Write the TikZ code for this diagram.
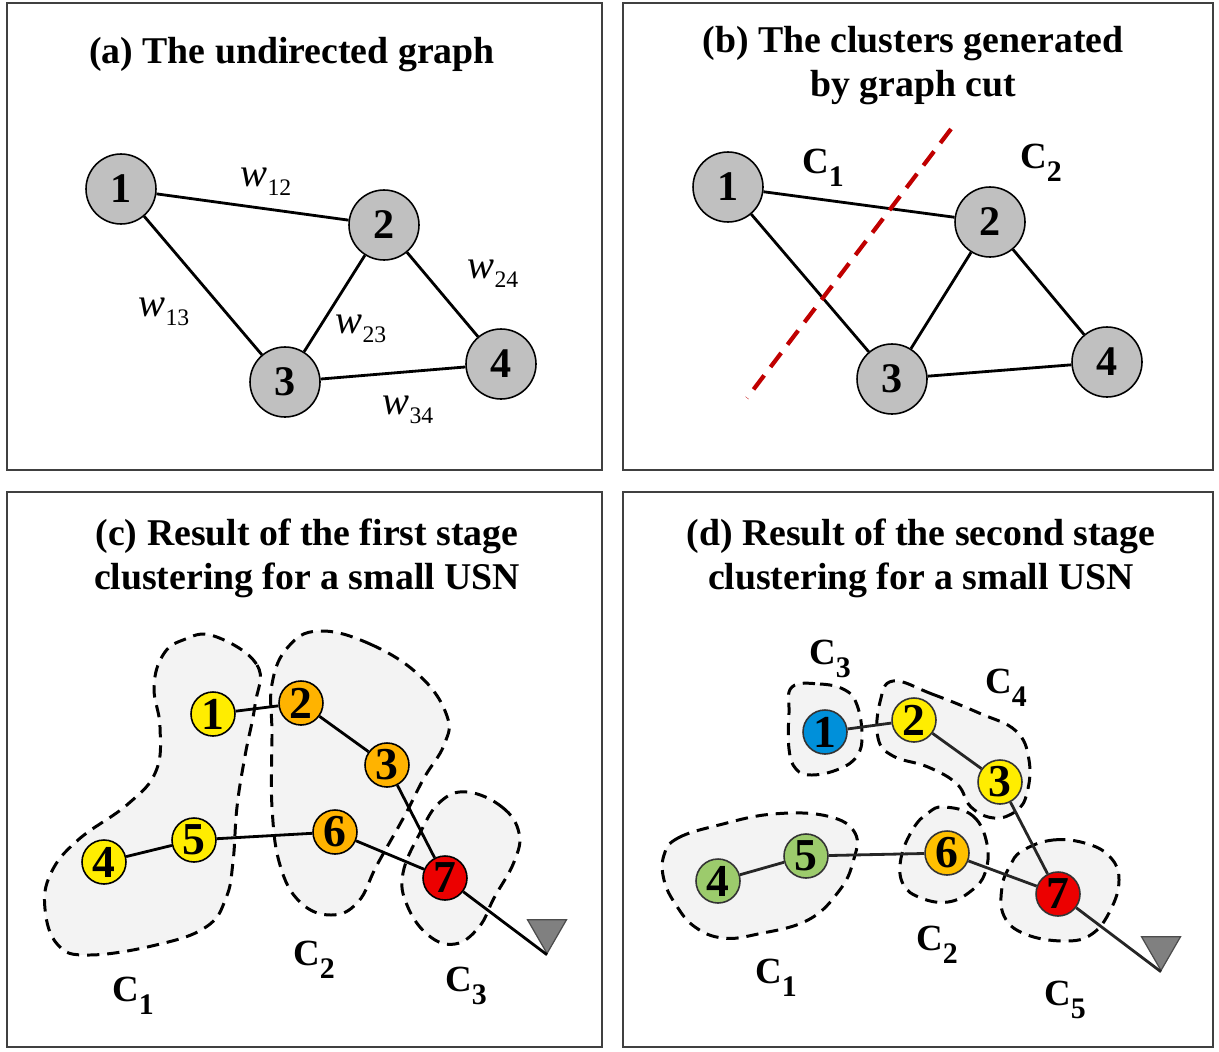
\documentclass[tikz,border=0pt]{standalone}
\usepackage{fontspec}
\setmainfont{Liberation Serif}
\usetikzlibrary{shapes.geometric}
\definecolor{nodegray}{RGB}{192,192,192}
\definecolor{framegray}{RGB}{64,64,64}
\definecolor{cutred}{RGB}{192,0,0}
\definecolor{blobgray}{RGB}{243,243,243}
\definecolor{usnyellow}{RGB}{255,237,0}
\definecolor{usnorange}{RGB}{255,179,0}
\definecolor{usnred}{RGB}{236,0,0}
\definecolor{usnblue}{RGB}{0,144,218}
\definecolor{usngreen}{RGB}{156,203,108}
\definecolor{usnamber}{RGB}{255,192,0}
\definecolor{sinkgray}{RGB}{128,128,128}

\newcommand{\wlab}[1]{\textit{w}\raisebox{-5pt}{\fontsize{13.5}{14}\selectfont #1}}
\newcommand{\clab}[1]{C\raisebox{-7.5pt}{\fontsize{17}{17}\selectfont #1}}

\begin{document}
\begin{tikzpicture}[x=0.02cm, y=-0.02cm,
    panel/.style={draw=framegray, line width=0.9pt},
    title/.style={font=\fontsize{21.5}{25}\selectfont\bfseries, align=center},
    bignode/.style={circle, draw, line width=0.9pt, fill=nodegray, minimum size=1.4cm, inner sep=0pt, font=\fontsize{24}{24}\selectfont\bfseries},
    usn/.style={circle, draw, line width=0.9pt, minimum size=0.88cm, inner sep=0pt, font=\fontsize{26}{26}\selectfont\bfseries},
    link/.style={line width=1.6pt},
    weight/.style={font=\fontsize{23}{23}\selectfont},
    clabel/.style={font=\fontsize{21}{21}\selectfont\bfseries},
    blob/.style={draw, dash pattern=on 7pt off 4.5pt, line width=1.7pt, fill=blobgray},
    cut/.style={draw=cutred, dash pattern=on 10pt off 6pt, line width=2.4pt},
    sink/.style={regular polygon, regular polygon sides=3, shape border rotate=180, draw=black!70, fill=sinkgray, minimum size=0.9cm, inner sep=0pt, line width=0.7pt}
]
    \useasboundingbox (0,0) rectangle (1219,1051);

    % Frames
    \draw[panel] (7,3) rectangle (602,470);
    \draw[panel] (623,3) rectangle (1213,470);
    \draw[panel] (7,492) rectangle (602,1047);
    \draw[panel] (623,492) rectangle (1213,1047);

    % Titles
    \node[title] (ta) at (292,55) {(a) The undirected graph};
    \node[title] (tb) at (913,66) {(b) The clusters generated\\by graph cut};
    \node[title] (tc) at (307,558) {(c) Result of the first stage\\clustering for a small USN};
    \node[title] (td) at (921,558) {(d) Result of the second stage\\clustering for a small USN};

    % (a) undirected graph
    \node[bignode] (a1) at (121,189) {1};
    \node[bignode] (a2) at (384,225) {2};
    \node[bignode] (a3) at (285,382) {3};
    \node[bignode] (a4) at (501,364) {4};
    \draw[link] (a1) -- (a2);
    \draw[link] (a1) -- (a3);
    \draw[link] (a2) -- (a3);
    \draw[link] (a2) -- (a4);
    \draw[link] (a3) -- (a4);
    \node[weight] (w12) at (266,182) {\wlab{12}};
    \node[weight] (w13) at (164,312) {\wlab{13}};
    \node[weight] (w23) at (361,329) {\wlab{23}};
    \node[weight] (w24) at (493,274) {\wlab{24}};
    \node[weight] (w34) at (408,410) {\wlab{34}};

    % (b) graph cut
    \node[bignode] (b1) at (728,187) {1};
    \node[bignode] (b2) at (990,222) {2};
    \node[bignode] (b3) at (892,379) {3};
    \node[bignode] (b4) at (1107,362) {4};
    \draw[link] (b1) -- (b2);
    \draw[link] (b1) -- (b3);
    \draw[link] (b2) -- (b3);
    \draw[link] (b2) -- (b4);
    \draw[link] (b3) -- (b4);
    \coordinate (cuttop) at (951,129);
    \coordinate (cutbot) at (747,398);
    \draw[cut] (cuttop) -- (cutbot);
    \node[clabel] (bc1) at (823,168) {\clab{1}};
    \node[clabel] (bc2) at (1041,163) {\clab{2}};

    % (c) first stage clusters
    \draw[blob] plot[smooth cycle, tension=0.7] coordinates {(214,636) (257,665) (255,705) (245,756) (237,807) (233,862) (226,898) (206,927) (156,945) (89,955) (58,945) (45,909) (51,873) (78,840) (128,804) (156,771) (160,727) (154,687) (163,655) (183,640)};
    \draw[blob] plot[smooth cycle, tension=0.7] coordinates {(319,631) (370,644) (420,676) (447,716) (444,745) (424,778) (405,815) (377,865) (358,902) (331,915) (300,902) (280,865) (272,807) (272,735) (272,684) (288,647)};
    \draw[blob] plot[smooth cycle, tension=0.7] coordinates {(467,792) (502,807) (519,833) (514,862) (494,898) (479,927) (455,944) (428,935) (407,905) (403,873) (420,833) (440,802)};
    \node[usn, fill=usnyellow] (c1) at (213,714) {1};
    \node[usn, fill=usnorange] (c2) at (301,703) {2};
    \node[usn, fill=usnorange] (c3) at (387,765) {3};
    \node[usn, fill=usnyellow] (c4) at (104,862) {4};
    \node[usn, fill=usnyellow] (c5) at (194,840) {5};
    \node[usn, fill=usnorange] (c6) at (335,832) {6};
    \node[usn, fill=usnred] (c7) at (445,878) {7};
    \node[sink] (csink) at (547,931) {};
    \draw[link] (c1) -- (c2);
    \draw[link] (c2) -- (c3);
    \draw[link] (c3) -- (c7);
    \draw[link] (c4) -- (c5);
    \draw[link] (c5) -- (c6);
    \draw[link] (c6) -- (c7);
    \draw[link] (c7) -- (csink.corner 1);
    \node[clabel] (cc1) at (133,996) {\clab{1}};
    \node[clabel] (cc2) at (314,960) {\clab{2}};
    \node[clabel] (cc3) at (466,986) {\clab{3}};

    % (d) second stage clusters
    \draw[blob] plot[smooth cycle, tension=0.7] coordinates {(792,687) (820,684) (845,690) (857,705) (862,735) (857,756) (839,769) (812,775) (796,769) (789,749) (789,713)};
    \draw[blob] plot[smooth cycle, tension=0.7] coordinates {(893,681) (932,694) (979,713) (1016,731) (1029,760) (1027,793) (1016,811) (994,818) (971,807) (957,784) (928,767) (893,756) (878,738) (880,702)};
    \draw[blob] plot[smooth cycle, tension=0.7] coordinates {(664,855) (678,838) (719,825) (773,814) (827,816) (855,833) (853,862) (839,891) (808,920) (758,934) (723,938) (695,927) (676,905) (664,880)};
    \draw[blob] plot[smooth cycle, tension=0.7] coordinates {(944,807) (973,816) (987,844) (985,873) (971,891) (948,902) (921,898) (903,884) (901,858) (913,829) (928,813)};
    \draw[blob] plot[smooth cycle, tension=0.7] coordinates {(1022,851) (1053,840) (1088,844) (1111,858) (1119,880) (1111,909) (1092,934) (1064,941) (1025,934) (1004,916) (1002,887) (1010,866)};
    \node[usn, fill=usnblue, draw=black!80] (d1) at (825,732) {1};
    \node[usn, fill=usnyellow, draw=black!80] (d2) at (914,720) {2};
    \node[usn, fill=usnyellow, draw=black!80] (d3) at (1000,782) {3};
    \node[usn, fill=usngreen, draw=black!80] (d4) at (718,881) {4};
    \node[usn, fill=usngreen, draw=black!80] (d5) at (806,856) {5};
    \node[usn, fill=usnamber, draw=black!80] (d6) at (947,853) {6};
    \node[usn, fill=usnred, draw=black!80] (d7) at (1058,894) {7};
    \node[sink] (dsink) at (1161,948) {};
    \draw[link, black!85] (d1) -- (d2);
    \draw[link, black!85] (d2) -- (d3);
    \draw[link, black!85] (d3) -- (d7);
    \draw[link, black!85] (d4) -- (d5);
    \draw[link, black!85] (d5) -- (d6);
    \draw[link, black!85] (d6) -- (d7);
    \draw[link, black!85] (d7) -- (dsink.corner 1);
    \node[clabel] (dc3) at (830,659) {\clab{3}};
    \node[clabel] (dc4) at (1006,688) {\clab{4}};
    \node[clabel] (dc1) at (776,978) {\clab{1}};
    \node[clabel] (dc2) at (937,945) {\clab{2}};
    \node[clabel] (dc5) at (1065,1000) {\clab{5}};
\end{tikzpicture}
\end{document}
